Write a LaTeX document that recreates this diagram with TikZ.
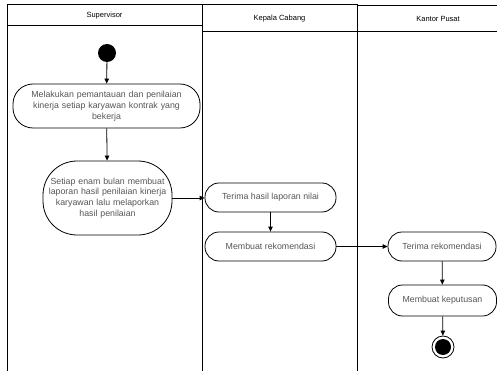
\documentclass[tikz,border=0pt]{standalone}
\usepackage{fontspec}
\setmainfont{Liberation Sans}
\usetikzlibrary{arrows.meta}
\definecolor{txtgray}{HTML}{555555}
\tikzset{
  act/.style={draw=black, line width=0.8pt, rounded corners=14pt, align=center, text=txtgray,
    font=\fontsize{8.8}{10.8}\selectfont, inner sep=1pt},
  lane/.style={draw=black, line width=1pt},
  hdr/.style={font=\fontsize{7.5}{9}\selectfont, text=black},
  flow/.style={draw=black, line width=0.8pt, -{Triangle[length=5pt,width=4.5pt]}},
}
\begin{document}
\begin{tikzpicture}[x=1pt,y=-1pt]
\useasboundingbox (0,0) rectangle (497,371);
\clip (0,0) rectangle (497,371);
% lanes
\draw[lane] (7,380) -- (7,5) -- (202,5) -- (202,380);
\draw[lane] (7,26) -- (202,26);
\draw[lane] (202,5) -- (357,5) -- (357,380);
\draw[lane] (202,32) -- (357,32);
\draw[lane] (357,6) -- (520,6) -- (520,380);
\draw[lane] (357,32) -- (520,32);
\node[hdr] (h1) at (104.5,16) {Supervisor};
\node[hdr] (h2) at (279.5,18.5) {Kepala Cabang};
\node[hdr] (h3) at (438,19) {Kantor Pusat};
% nodes
\node[circle, fill=black, minimum size=18pt, inner sep=0pt] (start) at (107,53) {};
\node[act, minimum width=187pt, minimum height=44pt, rounded corners=20pt, text width=180pt] (a1) at (106.5,106)
  {Melakukan pemantauan dan penilaian\\kinerja setiap karyawan kontrak yang\\bekerja};
\node[act, minimum width=129pt, minimum height=74pt, rounded corners=34pt, inner sep=0pt, text width=127pt] (a2) at (107.5,198)
  {Setiap enam bulan membuat\\laporan hasil penilaian kinerja\\karyawan lalu melaporkan\\hasil penilaian};
\node[act, minimum width=131pt, minimum height=29pt] (b1) at (270.5,197.5) {Terima hasil laporan nilai};
\node[act, minimum width=131pt, minimum height=29pt] (b2) at (270.5,246.5) {Membuat rekomendasi};
\node[act, minimum width=108pt, minimum height=29pt] (c1) at (442,246.5) {Terima rekomendasi};
\node[act, minimum width=108pt, minimum height=31pt] (c2) at (442.5,300.5) {Membuat keputusan};
\node[circle, draw=black, line width=0.8pt, minimum size=22pt, inner sep=0pt] (end) at (443,347) {};
\node[circle, fill=black, minimum size=16pt, inner sep=0pt] (endin) at (end.center) {};
% flows
\draw[flow] (start) -- (a1);
\draw[flow] (a1) -- (a2);
\draw[flow] (a2.east) -- (b1.west |- a2.east);
\draw[flow] (b1) -- (b2);
\draw[flow] (b2) -- (c1);
\draw[flow] (c1) -- (c2);
\draw[flow] (c2) -- (end);
\end{tikzpicture}
\end{document}
